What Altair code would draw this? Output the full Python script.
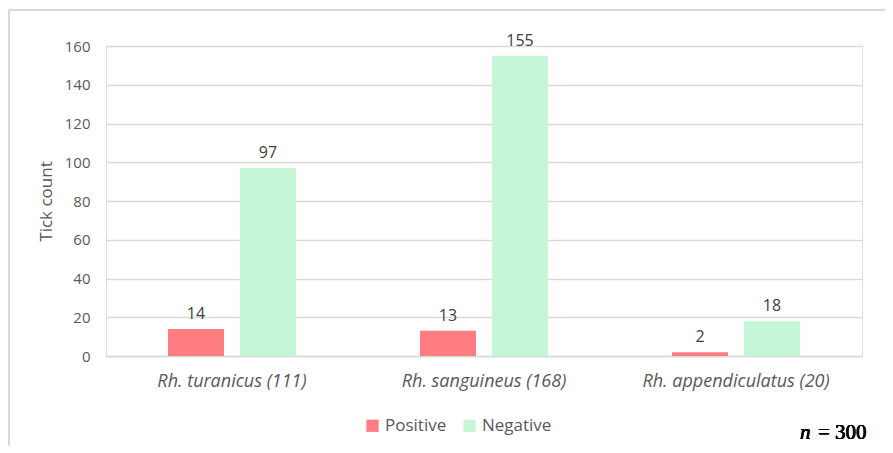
import altair as alt
import pandas as pd

species = ["Rh. turanicus (111)", "Rh. sanguineus (168)", "Rh. appendiculatus (20)"]
results = ["Positive", "Negative"]
positive = [14, 13, 2]
negative = [97, 155, 18]
colors = ["#FF7C80", "#C6F6D8"]

rows = []
for s, p, n in zip(species, positive, negative):
    rows.append({"species": s, "result": "Positive", "count": p})
    rows.append({"species": s, "result": "Negative", "count": n})
df = pd.DataFrame(rows)

FONT = "Open Sans"
GRAY = "#595959"

x = alt.X("species:N", sort=species, title=None,
          scale=alt.Scale(paddingInner=0, paddingOuter=0),
          axis=alt.Axis(labelAngle=0, labelFontStyle="italic", labelFontSize=18,
                        labelFont=FONT, labelColor=GRAY, ticks=False, labelLimit=400,
                        domainColor="#D9D9D9", domainWidth=1.5, labelPadding=16))
xo = alt.XOffset("result:N", sort=results,
                 scale=alt.Scale(paddingInner=0.222, paddingOuter=0.861))
y = alt.Y("count:Q", title="Tick count",
          scale=alt.Scale(domain=[0, 160], nice=False),
          axis=alt.Axis(values=[0, 20, 40, 60, 80, 100, 120, 140, 160], ticks=False,
                        domain=False, labelFontSize=15, labelFont=FONT, labelColor=GRAY,
                        labelPadding=16, titleFont=FONT, titleFontSize=17,
                        titleFontWeight="normal", titleColor=GRAY, titlePadding=9,
                        gridColor="#D9D9D9", gridWidth=1.5, labelOverlap=False))
color = alt.Color("result:N", sort=results, title=None,
                  scale=alt.Scale(domain=results, range=colors),
                  legend=alt.Legend(orient="none", legendX=258, legendY=371,
                                    direction="horizontal", symbolType="square",
                                    symbolSize=150, symbolStrokeWidth=0,
                                    labelFont=FONT, labelFontSize=17,
                                    labelColor=GRAY, columnPadding=14,
                                    labelOffset=4))

base = alt.Chart(df).encode(x=x, xOffset=xo, y=y)
bars = base.mark_bar(opacity=1).encode(color=color)
labels = base.mark_text(baseline="bottom", dy=-7, font=FONT, fontSize=16,
                        fontWeight="normal", color="#404040").encode(text="count:Q")

border_top = alt.Chart(df).mark_rule(color="#D9D9D9", strokeWidth=2, clip=False).encode(
    x=alt.value(-97), x2=alt.value(780), y=alt.value(-36))
border_left = alt.Chart(df).mark_rule(color="#D9D9D9", strokeWidth=2, clip=False).encode(
    x=alt.value(-97), y=alt.value(-36), y2=alt.value(400))

n_text = alt.Chart(df).mark_text(font="Liberation Serif", fontSize=21, fontStyle="italic",
                                 fontWeight="normal", align="left", baseline="alphabetic",
                                 color="black").encode(
    x=alt.value(694), y=alt.value(393), text=alt.value("n"))
n_rest = alt.Chart(df).mark_text(font="Liberation Serif", fontSize=21, fontWeight="normal",
                                 align="left", baseline="alphabetic", color="black").encode(
    x=alt.value(712), y=alt.value(393), text=alt.value("= 300"))

chart = alt.layer(bars, labels, border_top, border_left, n_text, n_rest).properties(
    width=756, height=310,
    autosize=alt.AutoSizeParams(type="none"),
    padding={"left": 98, "top": 38, "right": 23, "bottom": 91},
).configure_view(stroke=None).configure(background="white")

chart.save("out.html", embed_options={"renderer": "svg", "actions": False})
